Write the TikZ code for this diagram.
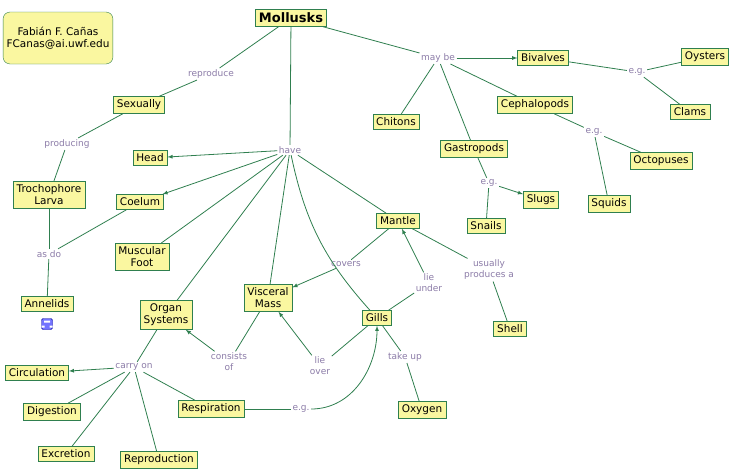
\documentclass[tikz,border=0pt]{standalone}
\usepackage{fontspec}
\setmainfont{DejaVu Sans}
\definecolor{cbox}{HTML}{FAF7A0}
\definecolor{cline}{HTML}{2F7F4F}
\definecolor{ctext}{HTML}{8C7CA8}
\tikzset{
  concept/.style={draw=cline,fill=cbox,font=\fontsize{10.5}{12}\selectfont,inner sep=3.5pt,align=center},
  link/.style={text=ctext,font=\fontsize{9}{11}\selectfont,inner sep=1.5pt,align=center,fill=white},
  con/.style={draw=cline,thick},
  arr/.style={con,-latex}
}
\begin{document}
\begin{tikzpicture}[x=1pt,y=-1pt]
\useasboundingbox (0,0) rectangle (736,474);

% concepts
\node[concept,rounded corners=7pt,minimum width=96pt,minimum height=52pt] (author) at (58,38) {Fabián F. Cañas\\FCanas@ai.uwf.edu};
\node[concept,font=\fontsize{13}{15}\selectfont\bfseries] (moll) at (291,18) {Mollusks};
\node[concept] (sex) at (139,105) {Sexually};
\node[concept] (troch) at (49,195) {Trochophore\\Larva};
\node[concept] (annel) at (47,304) {Annelids};
\node[concept] (head) at (150,158) {Head};
\node[concept] (coel) at (140,202) {Coelum};
\node[concept] (foot) at (142,257) {Muscular\\Foot};
\node[concept] (organ) at (166,315) {Organ\\Systems};
\node[concept] (visc) at (268,298) {Visceral\\Mass};
\node[concept] (mantle) at (398,221) {Mantle};
\node[concept] (shell) at (510,329) {Shell};
\node[concept] (gills) at (377,318) {Gills};
\node[concept] (oxy) at (422,410) {Oxygen};
\node[concept] (circ) at (37,373) {Circulation};
\node[concept] (dig) at (52,412) {Digestion};
\node[concept] (excr) at (66,454) {Excretion};
\node[concept] (repr) at (159,460) {Reproduction};
\node[concept] (resp) at (211,409) {Respiration};
\node[concept] (biv) at (543,58) {Bivalves};
\node[concept] (oyst) at (705,57) {Oysters};
\node[concept] (clams) at (690,112) {Clams};
\node[concept] (chit) at (396,122) {Chitons};
\node[concept] (ceph) at (535,105) {Cephalopods};
\node[concept] (octo) at (661,161) {Octopuses};
\node[concept] (squid) at (609,204) {Squids};
\node[concept] (gastr) at (474,149) {Gastropods};
\node[concept] (slugs) at (541,200) {Slugs};
\node[concept] (snails) at (486,226) {Snails};

% icon
\node[draw=blue!60!black,fill=blue!55,rounded corners=1.5pt,minimum size=11pt,inner sep=0pt] (icon) at (47,324) {};
\fill[white] (44,320.5) rectangle (50,322.5) (41.5,325.5) rectangle (44.5,327.5) (49.5,325.5) rectangle (52.5,327.5);

% linking phrases
\node[link] (reproduce) at (211,74) {reproduce};
\node[link] (producing) at (67,144) {producing};
\node[link] (asdo) at (49,254) {as do};
\node[link] (have) at (290,150) {have};
\node[link] (maybe) at (438,58) {may be};
\node[link] (egbiv) at (637,72) {e.g.};
\node[link] (egceph) at (594,132) {e.g.};
\node[link] (eggastr) at (489,183) {e.g.};
\node[link] (covers) at (346,264) {covers};
\node[link] (lieunder) at (429,283) {lie\\under};
\node[link] (produces) at (489,270) {usually\\produces a};
\node[link] (consists) at (229,362) {consists\\of};
\node[link] (lieover) at (320,366) {lie\\over};
\node[link] (takeup) at (405,357) {take up};
\node[link] (carry) at (134,367) {carry on};
\node[link] (egresp) at (301,409) {e.g.};

% connectors
\draw[con] (moll) -- (reproduce);
\draw[con] (reproduce) -- (sex);
\draw[con] (sex) -- (producing);
\draw[con] (producing) -- (troch);
\draw[con] (troch) -- (asdo);
\draw[con] (coel) -- (asdo);
\draw[con] (asdo) -- (annel);
\draw[con] (moll) -- (have);
\draw[arr] (have) -- (head);
\draw[arr] (have) -- (coel);
\draw[con] (have) -- (foot);
\draw[con] (have) -- (organ);
\draw[con] (have) -- (visc);
\draw[con] (have) to[bend right=15] (gills);
\draw[con] (have) -- (mantle);
\draw[con] (moll) -- (maybe);
\draw[arr] (maybe) -- (biv);
\draw[con] (maybe) -- (chit);
\draw[con] (maybe) -- (ceph);
\draw[con] (maybe) -- (gastr);
\draw[con] (biv) -- (egbiv);
\draw[con] (egbiv) -- (oyst);
\draw[con] (egbiv) -- (clams);
\draw[con] (ceph) -- (egceph);
\draw[con] (egceph) -- (octo);
\draw[con] (egceph) -- (squid);
\draw[con] (gastr) -- (eggastr);
\draw[arr] (eggastr) -- (slugs);
\draw[con] (eggastr) -- (snails);
\draw[con] (mantle) -- (covers);
\draw[arr] (covers) -- (visc);
\draw[con] (gills) -- (lieunder);
\draw[arr] (lieunder) -- (mantle);
\draw[con] (mantle) -- (produces);
\draw[con] (produces) -- (shell);
\draw[con] (gills) -- (lieover);
\draw[arr] (lieover) -- (visc);
\draw[con] (visc) -- (consists);
\draw[arr] (consists) -- (organ);
\draw[con] (gills) -- (takeup);
\draw[con] (takeup) -- (oxy);
\draw[con] (organ) -- (carry);
\draw[arr] (carry) -- (circ);
\draw[con] (carry) -- (dig);
\draw[con] (carry) -- (excr);
\draw[con] (carry) -- (repr);
\draw[con] (carry) -- (resp);
\draw[con] (resp) -- (egresp);
\draw[arr] (egresp) to[out=0,in=270] (gills);
\end{tikzpicture}
\end{document}
